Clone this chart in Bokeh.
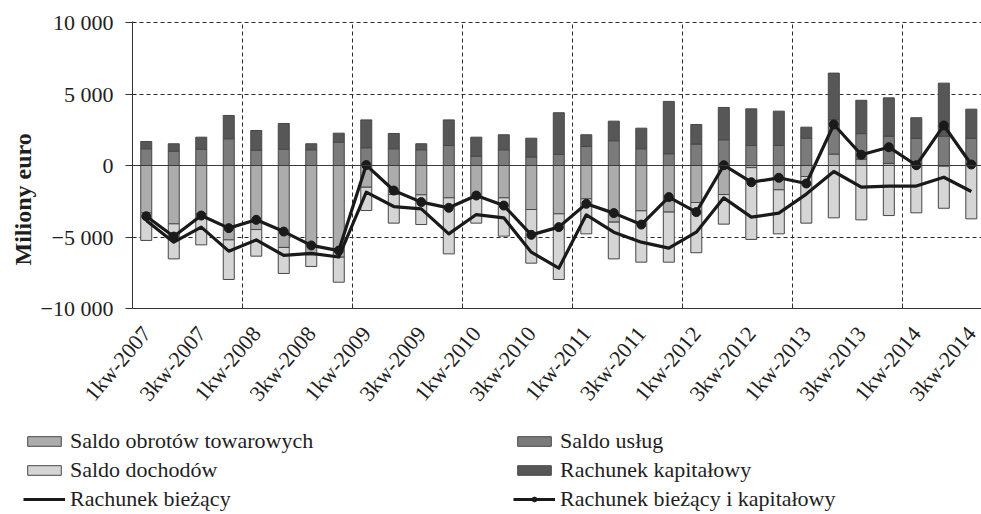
from math import pi

import numpy as np
from bokeh.embed import file_html
from bokeh.layouts import column
from bokeh.models import FixedTicker, Legend, LegendItem, Range1d, Span, Title
from bokeh.plotting import figure
from bokeh.resources import INLINE

# Quarterly balance-of-payments components, million EUR
quarters = [
    "1kw-2007", "2kw-2007", "3kw-2007", "4kw-2007",
    "1kw-2008", "2kw-2008", "3kw-2008", "4kw-2008",
    "1kw-2009", "2kw-2009", "3kw-2009", "4kw-2009",
    "1kw-2010", "2kw-2010", "3kw-2010", "4kw-2010",
    "1kw-2011", "2kw-2011", "3kw-2011", "4kw-2011",
    "1kw-2012", "2kw-2012", "3kw-2012", "4kw-2012",
    "1kw-2013", "2kw-2013", "3kw-2013", "4kw-2013",
    "1kw-2014", "2kw-2014", "3kw-2014",
]

saldo_towarowe = [
    -3310, -4080, -3400, -5200, -4480, -5730, -6250, -6410,
    -1520, -2030, -2050, -2260, -2200, -2260, -3080, -3380,
    -2330, -3960, -3170, -3260, -2590, -2030, -150, -1700,
    -770, 800, 450, 150, 50, -50, 80,
]
saldo_uslug = [
    1170, 1000, 1140, 1870, 1070, 1140, 1100, 1630,
    1240, 1170, 1100, 1400, 650, 1100, 600, 770,
    1330, 1730, 1170, 820, 1500, 1800, 1400, 1400,
    1910, 2400, 1780, 1900, 1840, 2050, 1820,
]
saldo_dochodow = [
    -1930, -2450, -2150, -2770, -1860, -1820, -810, -1750,
    -1630, -2000, -2080, -3920, -1830, -2680, -3750, -4590,
    -2450, -2570, -3590, -3500, -3510, -2070, -5020, -3080,
    -3260, -3660, -3800, -3500, -3310, -2940, -3730,
]
rachunek_kapitalowy = [
    510, 520, 840, 1630, 1380, 1800, 420, 630,
    1950, 1070, 420, 1790, 1330, 1050, 1310, 2920,
    820, 1370, 1440, 3660, 1370, 2260, 2560, 2400,
    770, 3260, 2330, 2680, 1450, 3710, 2040,
]
rachunek_biezacy = [
    -3850, -5360, -4310, -5990, -5200, -6290, -6150, -6400,
    -1860, -2870, -3030, -4780, -3430, -3660, -6060, -7180,
    -3450, -4660, -5360, -5780, -4660, -2260, -3610, -3330,
    -2000, -420, -1510, -1440, -1440, -820, -1820,
]
rachunek_biezacy_kapitalowy = [
    -3550, -4970, -3500, -4380, -3800, -4620, -5590, -5950,
    30, -1750, -2560, -2960, -2100, -2800, -4850, -4310,
    -2680, -3330, -4130, -2210, -3260, 20, -1170, -860,
    -1260, 2870, 750, 1280, 20, 2800, 70,
]

y_ticks = [-10000, -5000, 0, 5000, 10000]
y_tick_labels = ["\u221210\u00a0000", "\u22125\u00a0000", "0", "5\u00a0000", "10\u00a0000"]

FONT = "Liberation Serif"
TXT = "#1e1e1e"
EDGE = "#474747"
LINE = "#1a1a1a"
C_TOW, C_USL, C_DOCH, C_KAP = "#acacac", "#7b7b7b", "#d5d5d5", "#575757"

n = len(quarters)
x = np.arange(n)

p = figure(
    width=981, height=416,
    x_range=Range1d(-0.5, 30.37), y_range=Range1d(-10000, 10070),
    output_backend="svg", toolbar_location=None,
    min_border_left=132, min_border_right=0, min_border_top=21, min_border_bottom=108,
    background_fill_color="white", border_fill_color="white",
)
p.outline_line_color = None
p.frame_align = False

# gridlines: dashed at year boundaries and at +-5000 / 10000, solid at zero
year_bounds = [3.5, 7.5, 11.5, 15.5, 19.5, 23.5, 27.5]
p.xgrid.ticker = FixedTicker(ticks=year_bounds)
p.ygrid.ticker = FixedTicker(ticks=[-5000, 5000, 10000])
for g in (p.xgrid, p.ygrid):
    g.grid_line_color = "#2a2a2a"
    g.grid_line_width = 1
    g.grid_line_dash = "4 3"
p.add_layout(Span(location=0, dimension="width", line_color="#3a3a3a", line_width=1))

# stacked bars: positives and negatives accumulate separately
series = [
    (saldo_towarowe, C_TOW),
    (saldo_uslug, C_USL),
    (saldo_dochodow, C_DOCH),
    (rachunek_kapitalowy, C_KAP),
]
pos = np.zeros(n)
neg = np.zeros(n)
for vals, color in series:
    v = np.asarray(vals, dtype=float)
    bottom = np.where(v >= 0, pos, neg)
    top = bottom + v
    pos = np.where(v >= 0, top, pos)
    neg = np.where(v < 0, top, neg)
    p.vbar(x=x, bottom=bottom, top=top, width=0.4,
           fill_color=color, line_color=EDGE, line_width=1)

p.line(x, rachunek_biezacy, line_color=LINE, line_width=3.2, line_join="round")
p.line(x, rachunek_biezacy_kapitalowy, line_color=LINE, line_width=3.2, line_join="round")
p.scatter(x, rachunek_biezacy_kapitalowy, size=9, fill_color=LINE, line_color=LINE)

# x axis: labels every second quarter, small inward ticks at year boundaries
xa = p.xaxis[0]
xa.ticker = FixedTicker(ticks=list(range(0, n, 2)), minor_ticks=year_bounds)
xa.major_label_overrides = {i: quarters[i] for i in range(0, n, 2)}
xa.major_label_orientation = 0.87
xa.major_tick_line_color = None
xa.minor_tick_in = 5
xa.minor_tick_out = 0
xa.minor_tick_line_color = "#333333"
xa.axis_line_color = "#333333"
xa.major_label_text_font = FONT
xa.major_label_text_font_size = "22px"
xa.major_label_text_color = TXT
xa.major_label_standoff = 15

ya = p.yaxis[0]
ya.ticker = FixedTicker(ticks=y_ticks)
ya.major_label_overrides = dict(zip(y_ticks, y_tick_labels))
ya.minor_tick_line_color = None
ya.major_tick_in = 0
ya.major_tick_out = 7
ya.major_tick_line_color = "#333333"
ya.axis_line_color = "#333333"
ya.major_label_text_font = FONT
ya.major_label_text_font_size = "22px"
ya.major_label_text_color = TXT
ya.major_label_standoff = 12

p.add_layout(Title(
    text="Miliony euro", align="left", offset=43, standoff=4,
    text_font=FONT, text_font_style="bold", text_font_size="24px", text_color=TXT,
), "left")

# legend panel underneath the chart, two columns of keys
lg = figure(
    width=981, height=98, x_range=Range1d(0, 1), y_range=Range1d(0, 1),
    x_axis_type=None, y_axis_type=None,
    output_backend="svg", toolbar_location=None,
    min_border=0, background_fill_color="white", border_fill_color="white",
)
lg.grid.visible = False
lg.outline_line_color = None
lg.frame_align = False

# key glyphs sit outside the visible range; only their legend swatches show
off = [-5]
key_tow = lg.vbar(x=off, top=off, width=0.4, fill_color=C_TOW, line_color=EDGE)
key_usl = lg.vbar(x=off, top=off, width=0.4, fill_color=C_USL, line_color=EDGE)
key_doch = lg.vbar(x=off, top=off, width=0.4, fill_color=C_DOCH, line_color=EDGE)
key_kap = lg.vbar(x=off, top=off, width=0.4, fill_color=C_KAP, line_color=EDGE)
key_cur = lg.line(x=off, y=off, line_color=LINE, line_width=3)
key_tot = lg.line(x=off, y=off, line_color=LINE, line_width=3)
key_dot = lg.scatter(x=off, y=off, size=8, fill_color=LINE, line_color=LINE)


def make_legend(items, vx):
    leg = Legend(
        items=items, location=(vx, 2), orientation="vertical",
        padding=0, margin=0, spacing=3,
        glyph_width=42, glyph_height=12, label_standoff=5, label_height=20,
        label_text_font=FONT, label_text_font_size="22px", label_text_color=TXT,
        border_line_color=None, background_fill_alpha=0,
    )
    lg.add_layout(leg)


make_legend([
    LegendItem(label="Saldo obrotów towarowych", renderers=[key_tow]),
    LegendItem(label="Saldo dochodów", renderers=[key_doch]),
    LegendItem(label="Rachunek bieżący", renderers=[key_cur]),
], 23)
make_legend([
    LegendItem(label="Saldo usług", renderers=[key_usl]),
    LegendItem(label="Rachunek kapitałowy", renderers=[key_kap]),
    LegendItem(label="Rachunek bieżący i kapitałowy", renderers=[key_tot, key_dot]),
], 513)

open("out.html", "w").write(file_html(column(p, lg, spacing=0), INLINE))
